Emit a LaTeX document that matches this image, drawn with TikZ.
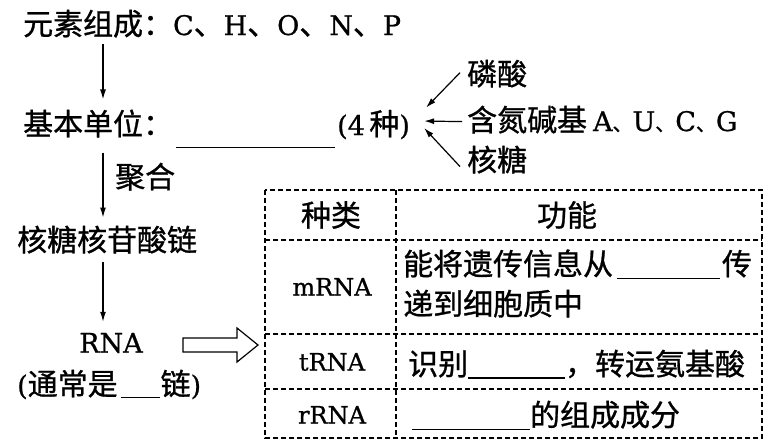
\documentclass[tikz,border=0pt]{standalone}
\usepackage{fontspec}
\setmainfont{DejaVu Serif}[FakeBold=0.8]
\newfontfamily\cjk[Scale=1.11,FakeBold=0.9]{Noto Sans CJK SC}
\usetikzlibrary{arrows.meta}
\newcommand{\zh}[1]{{\cjk #1}}
\newcommand{\dn}{{\fontsize{18}{20}\selectfont\cjk 、}}
\begin{document}
\begin{tikzpicture}[x=1pt,y=-1pt,
  txt/.style={inner sep=0pt, font=\fontsize{27}{33}\selectfont},
  lt/.style={txt, anchor=base west},
  ct/.style={txt, anchor=center},
  lab/.style={inner sep=0pt, anchor=center, font=\fontsize{24}{30}\selectfont},
  arr/.style={line width=1.2pt, -{Latex[length=10pt,width=6pt]}},
  plain/.style={line width=1.2pt},
  tab/.style={line width=1.1pt, dash pattern=on 5pt off 3pt}]
\useasboundingbox (0,0) rectangle (776,445);
\fill[white] (0,0) rectangle (776,445);
\coordinate (ax) at (103,0);

% left column
\node[lt] (elem) at (23,35) {\zh{元素组成：}C\zh{、}H\zh{、}O\zh{、}N\zh{、}P};
\node[lt] (unit) at (23,135) {\zh{基本单位：}};
\node[lt] (blank1) at (176,135) {\rule[-13pt]{159pt}{1.2pt}};
\node[lt] (four) at (337,135) {(4\,\zh{种})};
\node[lt] (phos) at (467,85) {\zh{磷酸}};
\node[lt] (base) at (467,131) {\zh{含氮碱基}\kern6pt A\dn U\dn C\dn G};
\node[lt] (ribose) at (467,171) {\zh{核糖}};
\node[lt] (poly) at (115,188) {\zh{聚合}};
\node[lt] (core) at (17,251) {\zh{核糖核苷酸链}};
\node[ct] (rna) at (111,343) {RNA};
\node[lt] (strand) at (17,395) {(\zh{通常是}\hspace{3pt}\rule[-3pt]{39pt}{1.2pt}\hspace{1pt}\zh{链})};

\draw[arr, shorten <=6pt, shorten >=10pt] (elem.south -| ax) -- (unit.north -| ax);
\draw[arr, shorten <=15pt, shorten >=8pt] (unit.south -| ax) -- (core.north -| ax);
\draw[arr, shorten <=8pt, shorten >=11pt] (core.south -| ax) -- (rna.north -| ax);

\draw[arr] ([shift={(-7,-1)}]phos.west) -- ([shift={(16,-17)}]four.east);
\draw[arr] ([shift={(-5,2)}]base.west) -- ([shift={(14,-3.5)}]four.east);
\draw[arr] ([shift={(-7,7)}]ribose.west) -- ([shift={(14,3.5)}]four.east);

% hollow arrow
\draw[plain, line join=miter] (183,338) -- (237,338) -- (237,328) -- (258,345) -- (237,362) -- (237,352) -- (183,352) -- cycle;

% table
\draw[tab] (265,190) rectangle (762,438);
\draw[tab] (396,190) -- (396,438);
\draw[tab] (265,240) -- (762,240);
\draw[tab] (265,334) -- (762,334);
\draw[tab] (265,389) -- (762,389);

\node[ct] (h1) at (331,215) {\zh{种类}};
\node[ct] (h2) at (567,215) {\zh{功能}};
\node[lab] (m) at (332,287) {mRNA};
\node[lab] (t) at (332,362) {tRNA};
\node[lab] (r) at (332,415) {rRNA};
\node[lt] (mf1) at (403,275) {\zh{能将遗传信息从}\hspace{4pt}\rule[-4pt]{103pt}{1.2pt}\hspace{2pt}\zh{传}};
\node[lt] (mf2) at (403,315) {\zh{递到细胞质中}};
\node[lt] (tf) at (408,375) {\zh{识别}\rule[-3.5pt]{97pt}{1.2pt}\zh{，转运氨基酸}};
\node[lt] (rf) at (412,426) {\rule[-4pt]{118pt}{1.2pt}\zh{的组成成分}};
\end{tikzpicture}
\end{document}
